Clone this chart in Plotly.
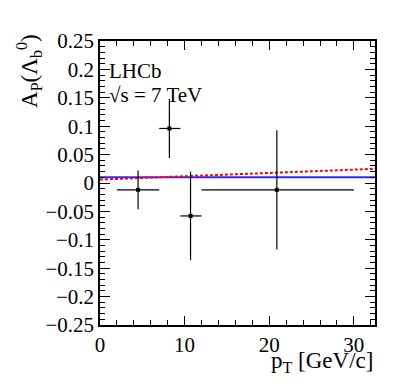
import plotly.graph_objects as go

# Data
pt_mean = [4.5, 8.2, 10.7, 20.9]
pt_lo = [2.0, 7.0, 9.5, 12.0]
pt_hi = [7.0, 9.5, 12.0, 30.0]
ap_val = [-0.012, 0.096, -0.058, -0.012]
ap_err = [0.034, 0.052, 0.078, 0.105]

flat_x = [0.0, 32.5]
flat_y = [0.010, 0.010]
lin_x = [0.0, 32.5]
lin_y = [0.006, 0.025]

ytick_vals = [-0.25, -0.2, -0.15, -0.1, -0.05, 0, 0.05, 0.1, 0.15, 0.2, 0.25]
ytick_text = ["\u22120.25", "\u22120.2", "\u22120.15", "\u22120.1", "\u22120.05", "0",
              "0.05", "0.1", "0.15", "0.2", "0.25"]
xtick_vals = [0, 10, 20, 30]
xtick_text = ["0", "10", "20", "30"]

FONT = "Liberation Serif"

fig = go.Figure()

fig.add_trace(go.Scatter(x=flat_x, y=flat_y, mode="lines",
                         line=dict(color="#2b2bff", width=2), hoverinfo="skip"))
fig.add_trace(go.Scatter(x=lin_x, y=lin_y, mode="lines",
                         line=dict(color="#ff0000", width=2, dash="3px,2px"), hoverinfo="skip"))

fig.add_trace(go.Scatter(
    x=pt_mean, y=ap_val, mode="markers",
    marker=dict(color="black", size=4, symbol="square"),
    error_x=dict(type="data", symmetric=False,
                 array=[h - m for h, m in zip(pt_hi, pt_mean)],
                 arrayminus=[m - l for m, l in zip(pt_mean, pt_lo)],
                 color="black", thickness=1.2, width=0),
    error_y=dict(type="data", array=ap_err, color="black", thickness=1.2, width=0),
))

axis_common = dict(
    showline=True, linecolor="black", linewidth=1.5, mirror="allticks",
    ticks="inside", tickcolor="black", tickwidth=1,
    showgrid=False, zeroline=False, automargin=False,
    tickfont=dict(family=FONT, size=21, color="black"),
)

fig.update_xaxes(range=[0, 32.5], tickmode="array", tickvals=xtick_vals, ticktext=xtick_text,
                 ticklen=9, ticklabelstandoff=0,
                 minor=dict(tickmode="linear", tick0=0, dtick=2, ticks="inside", ticklen=5,
                            tickcolor="black", showgrid=False),
                 **axis_common)
fig.update_yaxes(range=[-0.25, 0.25], tickmode="array", tickvals=ytick_vals, ticktext=ytick_text,
                 ticklen=10,
                 minor=dict(tickmode="linear", tick0=0, dtick=0.01, ticks="inside", ticklen=5,
                            tickcolor="black", showgrid=False),
                 **axis_common)

fig.update_layout(
    width=399, height=388,
    margin=dict(l=100, r=24, t=41, b=63),
    paper_bgcolor="white", plot_bgcolor="white",
    showlegend=False,
    font=dict(family=FONT, color="black"),
    annotations=[
        dict(text="LHCb", x=0.025, y=0.895, xref="paper", yref="paper",
             xanchor="left", yanchor="middle", showarrow=False,
             font=dict(family=FONT, size=21)),
        dict(text="\u221As = 7 TeV", x=0.025, y=0.81, xref="paper", yref="paper",
             xanchor="left", yanchor="middle", showarrow=False,
             font=dict(family=FONT, size=21)),
        dict(text="A<sub>P</sub>(\u039B<sub>b</sub><sup>0</sup>)", textangle=-90,
             x=-0.26, y=1.03, xref="paper", yref="paper",
             xanchor="center", yanchor="top", showarrow=False,
             font=dict(family=FONT, size=23)),
        dict(text="p<sub>T</sub> [GeV/c]", x=1.0, y=-0.075, xref="paper", yref="paper",
             xanchor="right", yanchor="top", showarrow=False,
             font=dict(family=FONT, size=23)),
    ],
)

fig.write_html("out.html", config={"displayModeBar": False},
               post_script="document.body.style.margin='0';document.body.style.overflow='hidden';")
